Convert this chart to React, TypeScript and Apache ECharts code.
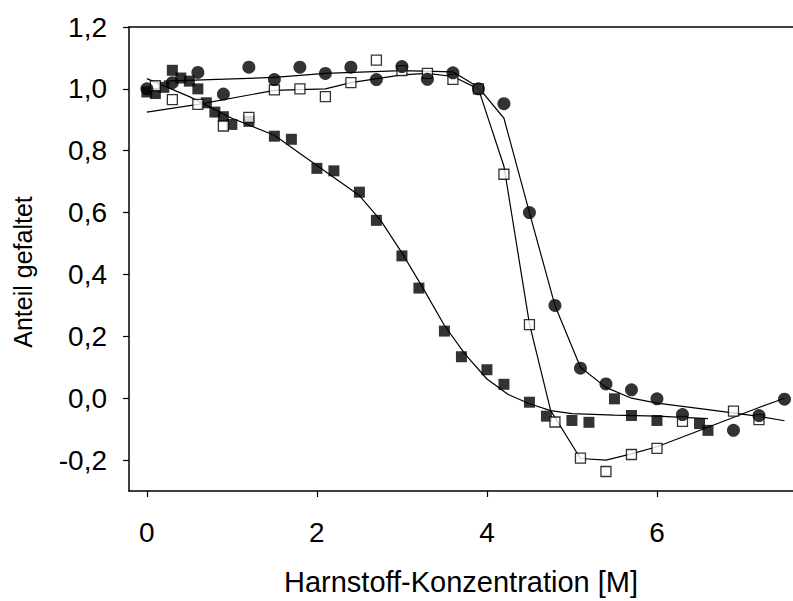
import React, { useEffect, useRef } from "react";
import * as echarts from "echarts";

// filled squares
const fsX = [0, 0.1, 0.2, 0.3, 0.4, 0.5, 0.6, 0.7, 0.8, 0.9, 1.0, 1.2, 1.5, 1.7, 2.0, 2.2, 2.5, 2.7, 3.0, 3.2, 3.5, 3.7, 4.0, 4.2, 4.5, 4.7, 5.0, 5.2, 5.5, 5.7, 6.0, 6.5, 6.6];
const fsY = [0.99, 0.985, 1.005, 1.06, 1.035, 1.025, 1.0, 0.955, 0.925, 0.91, 0.885, 0.895, 0.847, 0.837, 0.743, 0.735, 0.666, 0.575, 0.46, 0.356, 0.217, 0.134, 0.092, 0.045, -0.013, -0.058, -0.072, -0.078, -0.002, -0.056, -0.072, -0.082, -0.104];
const fsFitX = [0, 0.5, 1.0, 1.5, 2.0, 2.5, 2.75, 3.0, 3.25, 3.5, 3.75, 4.0, 4.25, 4.5, 4.75, 5.0, 5.5, 6.0, 6.6];
const fsFitY = [1.033, 0.975, 0.905, 0.85, 0.752, 0.655, 0.575, 0.47, 0.355, 0.235, 0.14, 0.062, 0.012, -0.018, -0.04, -0.05, -0.055, -0.058, -0.066];

// filled circles
const cX = [0, 0.3, 0.6, 0.9, 1.2, 1.5, 1.8, 2.1, 2.4, 2.7, 3.0, 3.3, 3.6, 3.9, 4.2, 4.5, 4.8, 5.1, 5.4, 5.7, 6.0, 6.3, 6.9, 7.2, 7.5];
const cY = [1.0, 1.02, 1.053, 0.983, 1.07, 1.03, 1.07, 1.05, 1.07, 1.03, 1.072, 1.031, 1.052, 1.0, 0.952, 0.6, 0.3, 0.097, 0.046, 0.027, -0.002, -0.053, -0.104, -0.056, -0.003];
const cFitX = [0.2, 1.5, 2.1, 3.0, 3.6, 3.9, 4.2, 4.5, 4.8, 5.1, 5.4, 5.7, 6.0, 6.6, 7.2, 7.5];
const cFitY = [1.025, 1.037, 1.05, 1.059, 1.055, 1.005, 0.905, 0.6, 0.3, 0.1, 0.035, 0.0, -0.016, -0.037, -0.059, -0.073];

// open squares
const oX = [0.1, 0.3, 0.6, 0.9, 1.2, 1.5, 1.8, 2.1, 2.4, 2.7, 3.0, 3.3, 3.6, 3.9, 4.2, 4.5, 4.8, 5.1, 5.4, 5.7, 6.0, 6.3, 6.9, 7.2];
const oY = [1.01, 0.965, 0.95, 0.88, 0.908, 0.997, 1.0, 0.975, 1.02, 1.093, 1.059, 1.05, 1.031, 1.0, 0.724, 0.238, -0.077, -0.194, -0.237, -0.182, -0.162, -0.075, -0.042, -0.069];
const oFitX = [0, 0.6, 1.5, 2.1, 2.4, 3.0, 3.3, 3.6, 3.9, 4.2, 4.5, 4.75, 5.1, 5.4, 5.7, 6.0, 6.6, 7.2, 7.5];
const oFitY = [0.925, 0.95, 0.995, 1.0, 1.02, 1.045, 1.05, 1.04, 1.0, 0.75, 0.24, -0.04, -0.195, -0.2, -0.18, -0.157, -0.094, -0.03, 0.0];

const xTicks = [0, 2, 4, 6];
const yTicks = [-0.2, 0, 0.2, 0.4, 0.6, 0.8, 1.0, 1.2];
const xTitle = "Harnstoff-Konzentration [M]";
const yTitle = "Anteil gefaltet";

const zip = (xs: number[], ys: number[]) => xs.map((x, i) => [x, ys[i]]);

const FONT = "Liberation Sans, Arial, sans-serif";

export default function App() {
  const ref = useRef<HTMLDivElement>(null);
  useEffect(() => {
    if (!ref.current) return;
    const chart = echarts.init(ref.current, null, { renderer: "svg" });
    const lineStyle = { color: "#000", width: 1.2 };
    const fitLine = (name: string, data: number[][]) => ({
      name,
      type: "line",
      data,
      showSymbol: false,
      symbol: "none",
      lineStyle,
      z: 2,
      silent: true,
    });
    chart.setOption({
      animation: false,
      backgroundColor: "#fff",
      textStyle: { fontFamily: FONT },
      grid: { left: 129, right: 0, top: 27, bottom: 108, containLabel: false },
      graphic: [
        {
          type: "text",
          x: 23,
          y: 272,
          rotation: Math.PI / 2,
          style: {
            text: yTitle,
            fontSize: 25,
            fontFamily: FONT,
            fill: "#000",
            textAlign: "center",
            textVerticalAlign: "middle",
          },
        },
      ],
      xAxis: [
        {
          type: "value",
          min: -0.21,
          max: 7.6,
          name: xTitle,
          nameLocation: "middle",
          nameGap: 76,
          nameTextStyle: { fontSize: 29, color: "#000", fontFamily: FONT },
          axisLine: { show: true, onZero: false, lineStyle: { color: "#000", width: 1.5 } },
          axisTick: { show: true, inside: false, length: 6, customValues: xTicks, lineStyle: { color: "#000", width: 1.2 } },
          axisLabel: { customValues: xTicks, fontSize: 28, color: "#000", margin: 27, fontFamily: FONT },
          splitLine: { show: false },
        },
        {
          type: "value",
          position: "top",
          min: -0.21,
          max: 7.6,
          axisLine: { show: true, onZero: false, lineStyle: { color: "#000", width: 1.5 } },
          axisTick: { show: false },
          axisLabel: { show: false },
          splitLine: { show: false },
        },
      ],
      yAxis: {
        type: "value",
        min: -0.3,
        max: 1.2,
        axisLine: { show: true, onZero: false, lineStyle: { color: "#000", width: 1.5 } },
        axisTick: { show: true, inside: false, length: 6, customValues: yTicks, lineStyle: { color: "#000", width: 1.2 } },
        axisLabel: {
          customValues: yTicks,
          fontSize: 28,
          color: "#000",
          margin: 22,
          fontFamily: FONT,
          formatter: (v: number) => v.toFixed(1).replace(".", ","),
        },
        splitLine: { show: false },
      },
      series: [
        fitLine("fitFilledSquares", zip(fsFitX, fsFitY)),
        fitLine("fitCircles", zip(cFitX, cFitY)),
        fitLine("fitOpenSquares", zip(oFitX, oFitY)),
        {
          name: "Gefüllte Quadrate",
          type: "scatter",
          data: zip(fsX, fsY),
          symbol: "rect",
          symbolSize: 11,
          itemStyle: { color: "#000" },
          z: 3,
        },
        {
          name: "Offene Quadrate",
          type: "scatter",
          data: zip(oX, oY),
          symbol: "rect",
          symbolSize: 10,
          itemStyle: { color: "#fff", borderColor: "#000", borderWidth: 1.3 },
          z: 4,
        },
        {
          name: "Kreise",
          type: "scatter",
          data: zip(cX, cY),
          symbol: "circle",
          symbolSize: 13,
          itemStyle: { color: "#000" },
          z: 5,
        },
      ],
    });
    return () => chart.dispose();
  }, []);
  return <div ref={ref} style={{ width: 793, height: 601, position: "absolute", left: 0, top: 0 }} />;
}
